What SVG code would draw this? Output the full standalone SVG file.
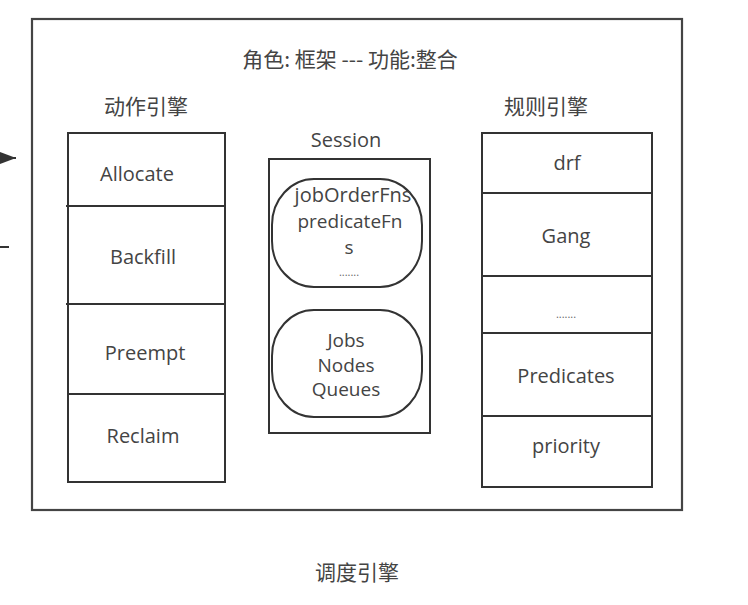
<svg xmlns="http://www.w3.org/2000/svg" width="748" height="605" viewBox="0 0 748 605">
<style>
.box{fill:none;stroke:#333;stroke-width:2}
.outer{fill:none;stroke:#444;stroke-width:2.2}
.t{font-family:"Open Sans","Noto Sans CJK SC",sans-serif;font-size:20px;fill:#444;text-anchor:middle}
.s{font-family:"Open Sans","Noto Sans CJK SC",sans-serif;font-size:19px;fill:#444;text-anchor:middle}
.c{font-family:"Noto Sans CJK SC","Open Sans",sans-serif;font-size:21px;fill:#444;text-anchor:middle}
.d{font-family:"Open Sans",sans-serif;font-size:11px;fill:#666;text-anchor:middle}
.ln{stroke:#333;stroke-width:2;fill:none}
</style>
<defs>
<marker id="ah" markerWidth="16" markerHeight="12" refX="16" refY="6" orient="auto" markerUnits="userSpaceOnUse">
<path d="M0,0 L16,6 L0,12 Z" fill="#333"/>
</marker>
</defs>
<rect width="748" height="605" fill="#fff"/>
<g id="connectors">
<line class="ln" x1="-30" y1="158" x2="16" y2="158" marker-end="url(#ah)"/>
<line class="ln" x1="0" y1="247" x2="9" y2="247"/>
</g>
<g id="scheduler">
<rect class="outer" x="32" y="19" width="650" height="491"/>
<text class="c" x="350" y="67">角色: 框架 --- 功能:整合</text>
<text class="c" x="357" y="580">调度引擎</text>
</g>
<g id="action-engine">
<text class="c" x="146" y="114">动作引擎</text>
<rect class="box" x="68" y="133" width="157" height="349"/>
<line class="ln" x1="66" y1="206" x2="225" y2="206"/>
<line class="ln" x1="66" y1="304" x2="225" y2="304"/>
<line class="ln" x1="68" y1="394" x2="225" y2="394"/>
<text class="t" x="137" y="181">Allocate</text>
<text class="t" x="143" y="264">Backfill</text>
<text class="t" x="145" y="360">Preempt</text>
<text class="t" x="143" y="443">Reclaim</text>
</g>
<g id="session">
<text class="t" x="346" y="147">Session</text>
<rect class="box" x="269" y="159" width="161" height="274"/>
<rect class="box" x="272" y="179" width="150" height="108" rx="42" ry="46"/>
<text class="t" x="353" y="202">jobOrderFns</text>
<text class="s" x="350" y="228">predicateFn</text>
<text class="s" x="349" y="254">s</text>
<text class="d" x="349" y="276">.......</text>
<rect class="box" x="272" y="310" width="150" height="107" rx="42" ry="46"/>
<text class="s" x="346" y="347">Jobs</text>
<text class="s" x="346" y="372">Nodes</text>
<text class="s" x="346" y="396">Queues</text>
</g>
<g id="rule-engine">
<text class="c" x="546" y="114">规则引擎</text>
<rect class="box" x="482" y="133" width="170" height="354"/>
<line class="ln" x1="482" y1="193" x2="652" y2="193"/>
<line class="ln" x1="482" y1="276" x2="652" y2="276"/>
<line class="ln" x1="482" y1="333" x2="652" y2="333"/>
<line class="ln" x1="482" y1="416" x2="652" y2="416"/>
<text class="t" x="567" y="170">drf</text>
<text class="t" x="566" y="243">Gang</text>
<text class="d" x="566" y="318">.......</text>
<text class="t" x="566" y="383">Predicates</text>
<text class="t" x="566" y="453">priority</text>
</g>
</svg>
